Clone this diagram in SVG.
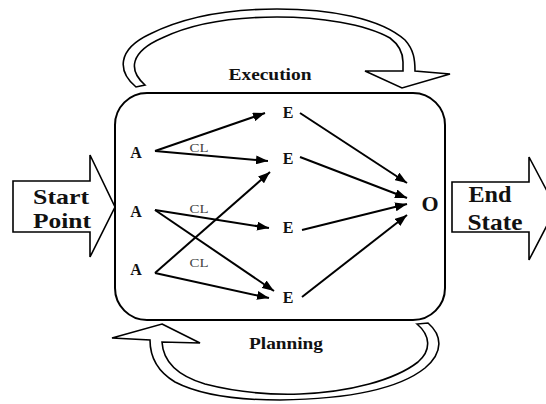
<svg xmlns="http://www.w3.org/2000/svg" width="546" height="404" viewBox="0 0 546 404">
<style>
.b{fill:#fff;stroke:#000;stroke-width:1.6;stroke-linejoin:miter}
.t{font-family:"Liberation Serif","Times New Roman",serif;font-weight:bold;fill:#111;text-anchor:middle}
.cl{font-family:"Liberation Serif","Times New Roman",serif;fill:#444;font-size:12px;text-anchor:middle}
.e{stroke:#000;stroke-width:2;fill:none;marker-end:url(#ah)}
</style>
<defs>
<marker id="ah" markerUnits="userSpaceOnUse" markerWidth="12" markerHeight="9" refX="12" refY="4.5" orient="auto">
<path d="M0,0 L12,4.5 L0,9 z" fill="#000"/>
</marker>
</defs>
<rect width="546" height="404" fill="#fff"/>
<g id="execution-loop">
<path class="b" d="M136,87 C118,72 116,50 150,34 C190,14 240,9 277,9 C330,9 380,18 405,40 C414,50 415,60 415,71 L450,74 L402,88 L365,71 L403,71 L403,62 C403,52 398,44 390,38 C365,24 320,17 277,17 C240,17 195,22 162,38 C130,52 128,70 145,85 Z"/>
<text class="t" x="270" y="80" font-size="16" textLength="83" lengthAdjust="spacingAndGlyphs">Execution</text>
</g>
<g id="planning-loop">
<path class="b" d="M162,324 L200,343 L162,342 C163,360 175,375 205,384 C240,393 270,395 300,394 C350,392 395,380 418,362 C432,350 430,335 417,324 L428,323 C442,335 444,352 425,368 C400,388 350,399 280,400 C240,400 200,395 175,382 C155,370 150,355 150,340 L112,338 Z"/>
<text class="t" x="286" y="349" font-size="16" textLength="74" lengthAdjust="spacingAndGlyphs">Planning</text>
</g>
<g id="start">
<polygon class="b" points="13,181 90,181 90,155 115,207 90,257 90,232 13,232"/>
<text class="t" x="61" y="204" font-size="22" textLength="56" lengthAdjust="spacingAndGlyphs">Start</text>
<text class="t" x="62" y="228" font-size="22" textLength="58" lengthAdjust="spacingAndGlyphs">Point</text>
</g>
<g id="end">
<polygon class="b" points="452,182 529,182 529,157 556,208 529,260 529,232 452,232"/>
<text class="t" x="490" y="202" font-size="23" textLength="43" lengthAdjust="spacingAndGlyphs">End</text>
<text class="t" x="495" y="230" font-size="23" textLength="55" lengthAdjust="spacingAndGlyphs">State</text>
</g>
<g id="process">
<rect x="115" y="93" width="330" height="227" rx="32" fill="none" stroke="#000" stroke-width="2"/>
</g>
<g id="A1"><text class="t" x="136" y="158" font-size="16">A</text></g>
<g id="A2"><text class="t" x="136" y="217" font-size="16">A</text></g>
<g id="A3"><text class="t" x="136" y="275" font-size="16">A</text></g>
<g id="E1"><text class="t" x="288" y="118" font-size="16">E</text></g>
<g id="E2"><text class="t" x="288" y="164" font-size="16">E</text></g>
<g id="E3"><text class="t" x="288" y="233" font-size="16">E</text></g>
<g id="E4"><text class="t" x="288" y="303" font-size="16">E</text></g>
<g id="O"><text class="t" x="430" y="211" font-size="22">O</text></g>
<g id="connectors">
<line class="e" x1="155" y1="151" x2="265" y2="113"/>
<line class="e" x1="155" y1="151" x2="268" y2="161"/>
<line class="e" x1="155" y1="210" x2="269" y2="228"/>
<line class="e" x1="155" y1="210" x2="274" y2="291"/>
<line class="e" x1="155" y1="273" x2="270" y2="172"/>
<line class="e" x1="155" y1="273" x2="269" y2="298"/>
<line class="e" x1="300" y1="113" x2="407" y2="183"/>
<line class="e" x1="300" y1="157" x2="407" y2="198"/>
<line class="e" x1="302" y1="230" x2="407" y2="204"/>
<line class="e" x1="302" y1="297" x2="407" y2="215"/>
<text class="cl" x="199" y="152" textLength="19" lengthAdjust="spacingAndGlyphs">CL</text>
<text class="cl" x="199" y="213" textLength="19" lengthAdjust="spacingAndGlyphs">CL</text>
<text class="cl" x="199" y="267" textLength="19" lengthAdjust="spacingAndGlyphs">CL</text>
</g>
</svg>
